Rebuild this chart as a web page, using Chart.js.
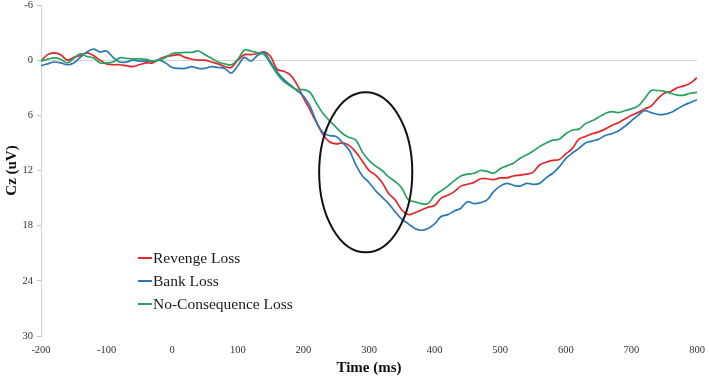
<!DOCTYPE html>
<html>
<head>
<meta charset="utf-8">
<script src="https://cdn.jsdelivr.net/npm/chart.js@4"></script>
<style>
  html, body { margin: 0; padding: 0; background: #fff; }
  #wrap { width: 709px; height: 377px; }
</style>
</head>
<body>
<div id="wrap"><canvas id="erpChart" width="709" height="377"></canvas></div>
<script>
// time points (ms), one every 10 ms
const times = [];
for (let t = -200; t <= 800; t += 10) times.push(t);

const revengeLoss = [
  0.1, -0.6, -0.8, -0.6, 0.0, -0.3, -0.5, -0.8, -0.5, 0.0,
  0.4, 0.5, 0.5, 0.6, 0.7, 0.5, 0.3, 0.3, -0.1, -0.4,
  -0.5, -0.6, -0.3, -0.1, 0.0, 0.0, 0.2, 0.4, 0.7, 0.8,
  0.0, -0.6, -0.6, -0.7, -0.9, -0.4, 1.0, 1.2, 1.6, 2.6,
  4.1, 5.4, 6.8, 8.1, 8.9, 9.1, 9.0, 9.3, 10.0, 11.0,
  12.0, 12.5, 13.3, 14.5, 15.2, 16.3, 16.8, 16.6, 16.3, 16.0,
  15.8, 15.0, 14.7, 14.3, 13.7, 13.5, 13.3, 12.9, 12.9, 13.0,
  12.8, 12.8, 12.6, 12.5, 12.4, 12.2, 11.4, 11.1, 10.9, 10.8,
  10.2, 9.6, 8.6, 8.3, 8.0, 7.8, 7.5, 7.1, 6.8, 6.4,
  6.0, 5.7, 5.3, 5.0, 4.2, 3.6, 3.4, 3.0, 2.8, 2.5,
  1.9
];

const bankLoss = [
  0.6, 0.4, 0.2, 0.3, 0.5, 0.3, -0.3, -0.9, -1.2, -0.9,
  -1.0, -0.3, 0.2, 0.2, 0.0, 0.1, 0.1, 0.1, 0.0, 0.3,
  0.8, 0.9, 0.9, 0.7, 0.9, 0.9, 0.7, 0.8, 0.9, 1.4,
  0.6, -0.3, 0.1, -0.5, -0.8, 0.2, 1.3, 2.1, 2.7, 3.3,
  3.9, 5.0, 6.7, 7.9, 8.2, 8.3, 9.0, 9.8, 11.4, 12.6,
  13.3, 14.2, 14.9, 15.6, 16.5, 17.3, 17.8, 18.3, 18.5, 18.3,
  17.8, 17.0, 16.8, 16.4, 16.1, 15.4, 15.6, 15.5, 15.2, 14.3,
  13.7, 13.4, 13.6, 13.7, 13.4, 13.5, 13.4, 12.8, 12.3, 11.6,
  10.7, 10.1, 9.6, 9.0, 8.8, 8.6, 8.2, 8.0, 7.7, 7.2,
  6.6, 6.0, 5.5, 5.7, 5.9, 5.9, 5.7, 5.3, 4.9, 4.6,
  4.3
];

const noConsequenceLoss = [
  0.1, -0.1, -0.25, -0.1, 0.3, -0.2, -0.7, -0.4, -0.25, 0.3,
  0.3, 0.2, -0.25, -0.2, -0.15, -0.15, -0.1, 0.1, 0.0, -0.3,
  -0.7, -0.8, -0.85, -0.85, -1.0, -0.6, -0.2, 0.2, 0.4, 0.5,
  -0.1, -1.1, -1.0, -0.8, -0.6, 0.4, 1.5, 2.3, 2.8, 3.2,
  3.2, 3.5, 4.7, 5.8, 6.6, 7.3, 8.0, 8.4, 8.7, 10.0,
  10.9, 11.5, 12.0, 12.7, 13.2, 13.9, 15.2, 15.4, 15.6, 15.6,
  14.7, 14.2, 13.7, 13.1, 12.6, 12.4, 12.3, 12.0, 12.1, 12.3,
  11.8, 11.5, 11.2, 10.7, 10.3, 9.9, 9.4, 9.0, 8.7, 8.6,
  8.0, 7.6, 7.5, 6.9, 6.6, 6.2, 5.8, 5.6, 5.7, 5.5,
  5.3, 5.0, 4.2, 3.3, 3.3, 3.4, 3.6, 3.8, 3.8, 3.6,
  3.5
];

const seriesNames = ["Revenge Loss", "Bank Loss", "No-Consequence Loss"];
const yTicks = [-6, 0, 6, 12, 18, 24, 30];

// highlighted window (ms / uV)
const ellipseCenter = [295, 12.2];
const ellipseRadius = [71, 8.7];

const colors = [
  "#e3262b", // red
  "#2b78b9", // blue
  "#25a35f", // green
];

const serif = "'Liberation Serif', 'Times New Roman', serif";

const ellipsePlugin = {
  id: "ellipse",
  afterDatasetsDraw(chart) {
    const { ctx, scales: { x, y } } = chart;
    const cx = x.getPixelForValue(ellipseCenter[0]);
    const cy = y.getPixelForValue(ellipseCenter[1]);
    const rx = Math.abs(x.getPixelForValue(ellipseCenter[0] + ellipseRadius[0]) - cx);
    const ry = Math.abs(y.getPixelForValue(ellipseCenter[1] + ellipseRadius[1]) - cy);
    ctx.save();
    ctx.beginPath();
    ctx.ellipse(cx, cy, rx, ry, 0, 0, Math.PI * 2);
    ctx.strokeStyle = "#111";
    ctx.lineWidth = 2;
    ctx.stroke();
    ctx.restore();
  },
};

const legendPlugin = {
  id: "floatLegend",
  afterDraw(chart) {
    const { ctx } = chart;
    ctx.save();
    ctx.font = "15.5px " + serif;
    ctx.textBaseline = "middle";
    ctx.fillStyle = "#1a1a1a";
    chart.data.datasets.forEach((ds, i) => {
      const yPos = 258 + i * 23;
      ctx.beginPath();
      ctx.moveTo(138, yPos);
      ctx.lineTo(152, yPos);
      ctx.strokeStyle = ds.borderColor;
      ctx.lineWidth = 2;
      ctx.stroke();
      ctx.fillText(ds.label, 153, yPos + 1);
    });
    ctx.restore();
  },
};

const makeSet = (i, values) => ({
  label: seriesNames[i],
  data: times.map((t, k) => ({ x: t, y: values[k] })),
  borderColor: colors[i],
  backgroundColor: colors[i],
  borderWidth: 1.7,
  pointRadius: 0,
  tension: 0.35,
  order: 3 - i,
});

new Chart(document.getElementById("erpChart").getContext("2d"), {
  type: "line",
  data: {
    datasets: [
      makeSet(0, revengeLoss),
      makeSet(1, bankLoss),
      makeSet(2, noConsequenceLoss),
    ],
  },
  options: {
    responsive: false,
    animation: false,
    layout: { padding: { top: 5, right: 12, left: 0, bottom: 0 } },
    plugins: {
      legend: { display: false },
      tooltip: { enabled: false },
    },
    scales: {
      x: {
        type: "linear",
        min: -200,
        max: 800,
        grid: { display: false },
        border: { display: false },
        ticks: {
          stepSize: 100,
          padding: 0,
          maxRotation: 0,
          color: "#333",
          font: { family: serif, size: 10.5 },
        },
        title: {
          display: true,
          text: "Time (ms)",
          color: "#111",
          padding: { top: 0, bottom: 0 },
          font: { family: serif, size: 15, weight: "bold" },
        },
        afterFit(s) { s.height = 41; },
      },
      y: {
        reverse: true,
        min: -6,
        max: 30,
        afterBuildTicks(s) { s.ticks = yTicks.map(v => ({ value: v })); },
        grid: {
          color: c => (c.tick && c.tick.value === 0 ? "#d4d4d4" : "rgba(0,0,0,0)"),
          tickColor: "#c4c4c4",
          tickLength: 4,
          lineWidth: 1,
        },
        border: { display: true, color: "#d4d4d4", width: 1 },
        ticks: {
          padding: 4,
          color: "#333",
          font: { family: serif, size: 10.5 },
        },
        title: {
          display: true,
          text: "Cz (uV)",
          color: "#111",
          padding: { top: 3, bottom: 0 },
          font: { family: serif, size: 15, weight: "bold" },
        },
        afterFit(s) {
          s.width = 41;
          s.paddingTop = 0;
          s.paddingBottom = 0;
        },
      },
    },
  },
  plugins: [ellipsePlugin, legendPlugin],
});
</script>
</body>
</html>
